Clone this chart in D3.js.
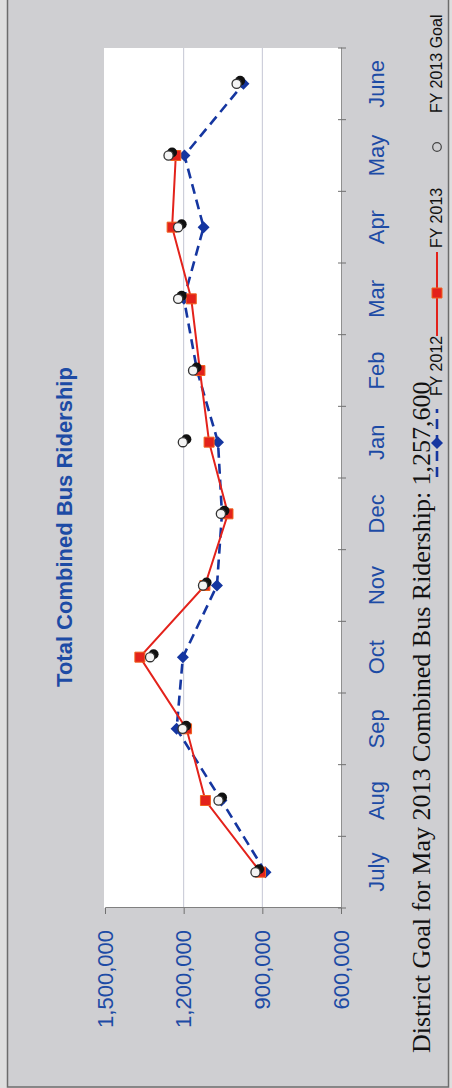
<!DOCTYPE html>
<html>
<head>
<meta charset="utf-8">
<script src="https://cdn.jsdelivr.net/npm/d3@7"></script>
<style>
  html, body { margin: 0; padding: 0; background: #dcdcdc; }
  svg { display: block; }
</style>
</head>
<body>
<script>
// Monthly ridership, fiscal year July–June
const months = ["July", "Aug", "Sep", "Oct", "Nov", "Dec", "Jan", "Feb", "Mar", "Apr", "May", "June"];
const fy2012 = [888000, 1056000, 1227000, 1203000, 1073000, 1054000, 1069000, 1149000, 1199000, 1124000, 1197000, 972000];
const fy2013 = [907000, 1117000, 1189000, 1367000, 1119000, 1031000, 1103000, 1138000, 1171000, 1244000, 1230000, null];
const mayGoal = 1257600;
const fy2013Goal = [926000, 1067000, 1204000, 1328000, 1126000, 1058000, 1203000, 1164000, 1221000, 1221000, mayGoal, 998000];
const valueTicks = [600000, 900000, 1200000, 1500000];
const gridValues = [900000, 1200000];

const W = 452, H = 1088;
const blueText = "#1d4ba5";
const blueLine = "#1536a0";
const red = "#e3221b";
const sans = "'Liberation Sans', Arial, sans-serif";

const svg = d3.select("body").append("svg")
  .attr("width", W).attr("height", H);

// page and frame
svg.append("rect").attr("width", W).attr("height", H).attr("fill", "#dedede");
svg.append("rect")
  .attr("x", 7.5).attr("y", -1).attr("width", 441).attr("height", 1088)
  .attr("fill", "#cfcfd2").attr("stroke", "#6c6c6c").attr("stroke-width", 1.5);

// The chart is laid out landscape and turned a quarter turn counter-clockwise
const g = svg.append("g").attr("transform", `translate(0,${H}) rotate(-90)`);

const x = d3.scaleBand().domain(months).range([180, 1040]);
const y = d3.scaleLinear().domain([600000, 1500000]).range([341, 105]);
const cx = m => x(m) + x.bandwidth() / 2;

// plot area
g.append("rect")
  .attr("x", 180).attr("y", 104).attr("width", 860).attr("height", 237)
  .attr("fill", "#ffffff");

// gridlines
g.selectAll("line.grid").data(gridValues).join("line")
  .attr("class", "grid")
  .attr("x1", 180).attr("x2", 1040)
  .attr("y1", d => y(d)).attr("y2", d => y(d))
  .attr("stroke", "#c4c6d4").attr("stroke-width", 1);

// value axis
const yAxis = g.append("g").attr("transform", "translate(180,0)")
  .call(d3.axisLeft(y).tickValues(valueTicks).tickSize(6).tickPadding(16)
    .tickFormat(d3.format(",")));
yAxis.select(".domain").attr("stroke", "#808080");
yAxis.selectAll(".tick line").attr("stroke", "#707070");
yAxis.selectAll("text")
  .attr("fill", blueText).attr("font-family", sans).attr("font-size", 22);

// month axis
const xAxis = g.append("g").attr("transform", "translate(0,341)")
  .call(d3.axisBottom(x).tickSize(0));
xAxis.select(".domain").attr("stroke", "#909090");
xAxis.selectAll("text")
  .attr("y", 43).attr("dy", 0)
  .attr("fill", blueText).attr("font-family", sans).attr("font-size", 22);
// tick marks sit on the month boundaries
const bounds = months.map(m => x(m)).concat([x(months[months.length - 1]) + x.bandwidth()]);
xAxis.selectAll("line.bound").data(bounds).join("line")
  .attr("class", "bound")
  .attr("x1", d => d).attr("x2", d => d)
  .attr("y1", -3).attr("y2", 5)
  .attr("stroke", "#707070").attr("stroke-width", 1);

// title
g.append("text")
  .attr("x", 561).attr("y", 72)
  .attr("text-anchor", "middle")
  .attr("font-family", sans).attr("font-weight", "bold").attr("font-size", 22)
  .attr("fill", blueText)
  .text("Total Combined Bus Ridership");

// series lines
const line = d3.line()
  .defined(d => d.v != null)
  .x(d => cx(d.m)).y(d => y(d.v));

const s2012 = months.map((m, i) => ({ m, v: fy2012[i] }));
const s2013 = months.map((m, i) => ({ m, v: fy2013[i] }));
const sGoal = months.map((m, i) => ({ m, v: fy2013Goal[i] }));

g.append("path").datum(s2012).attr("d", line)
  .attr("fill", "none").attr("stroke", blueLine).attr("stroke-width", 2.6)
  .attr("stroke-dasharray", "10,6");

const diamond = d3.symbol(d3.symbolSquare, 72);
g.selectAll("path.fy12").data(s2012).join("path")
  .attr("class", "fy12")
  .attr("d", diamond)
  .attr("transform", d => `translate(${cx(d.m)},${y(d.v)}) rotate(45)`)
  .attr("fill", blueLine);

g.append("path").datum(s2013).attr("d", line)
  .attr("fill", "none").attr("stroke", red).attr("stroke-width", 2);

const square = d3.symbol(d3.symbolSquare, 100);
g.selectAll("path.fy13").data(s2013.filter(d => d.v != null)).join("path")
  .attr("class", "fy13")
  .attr("d", square)
  .attr("transform", d => `translate(${cx(d.m)},${y(d.v)})`)
  .attr("fill", red).attr("stroke", "#f0621e").attr("stroke-width", 1);

// goal markers: hollow circles with a dark drop shadow
g.selectAll("circle.goalShadow").data(sGoal).join("circle")
  .attr("class", "goalShadow")
  .attr("cx", d => cx(d.m) + 3).attr("cy", d => y(d.v) + 3.5)
  .attr("r", 5).attr("fill", "#111");
g.selectAll("circle.goal").data(sGoal).join("circle")
  .attr("class", "goal")
  .attr("cx", d => cx(d.m)).attr("cy", d => y(d.v))
  .attr("r", 4.6).attr("fill", "#f4f4f4").attr("stroke", "#333").attr("stroke-width", 1.3);

// footnote
g.append("text")
  .attr("x", 35).attr("y", 430)
  .attr("font-family", "'Liberation Serif', 'Times New Roman', serif")
  .attr("font-size", 26).attr("fill", "#111")
  .text(`District Goal for May 2013 Combined Bus Ridership: ${d3.format(",")(mayGoal)}`);

// legend
const legY = 437;
const leg = g.append("g");
leg.append("line").attr("x1", 611).attr("x2", 679).attr("y1", legY).attr("y2", legY)
  .attr("stroke", blueLine).attr("stroke-width", 2.6).attr("stroke-dasharray", "10,6");
leg.append("path").attr("d", diamond)
  .attr("transform", `translate(645,${legY}) rotate(45)`).attr("fill", blueLine);
leg.append("text").attr("x", 692).attr("y", 442)
  .attr("font-family", sans).attr("font-size", 16).attr("fill", "#111").text("FY 2012");

leg.append("line").attr("x1", 752).attr("x2", 836).attr("y1", legY).attr("y2", legY)
  .attr("stroke", red).attr("stroke-width", 2);
leg.append("path").attr("d", square)
  .attr("transform", `translate(795,${legY})`)
  .attr("fill", red).attr("stroke", "#f0621e").attr("stroke-width", 1);
leg.append("text").attr("x", 840).attr("y", 442)
  .attr("font-family", sans).attr("font-size", 16).attr("fill", "#111").text("FY 2013");

leg.append("circle").attr("cx", 941).attr("cy", legY).attr("r", 4.3)
  .attr("fill", "none").attr("stroke", "#444").attr("stroke-width", 1.2);
leg.append("text").attr("x", 975).attr("y", 442)
  .attr("font-family", sans).attr("font-size", 16).attr("fill", "#111").text("FY 2013 Goal");
</script>
</body>
</html>
